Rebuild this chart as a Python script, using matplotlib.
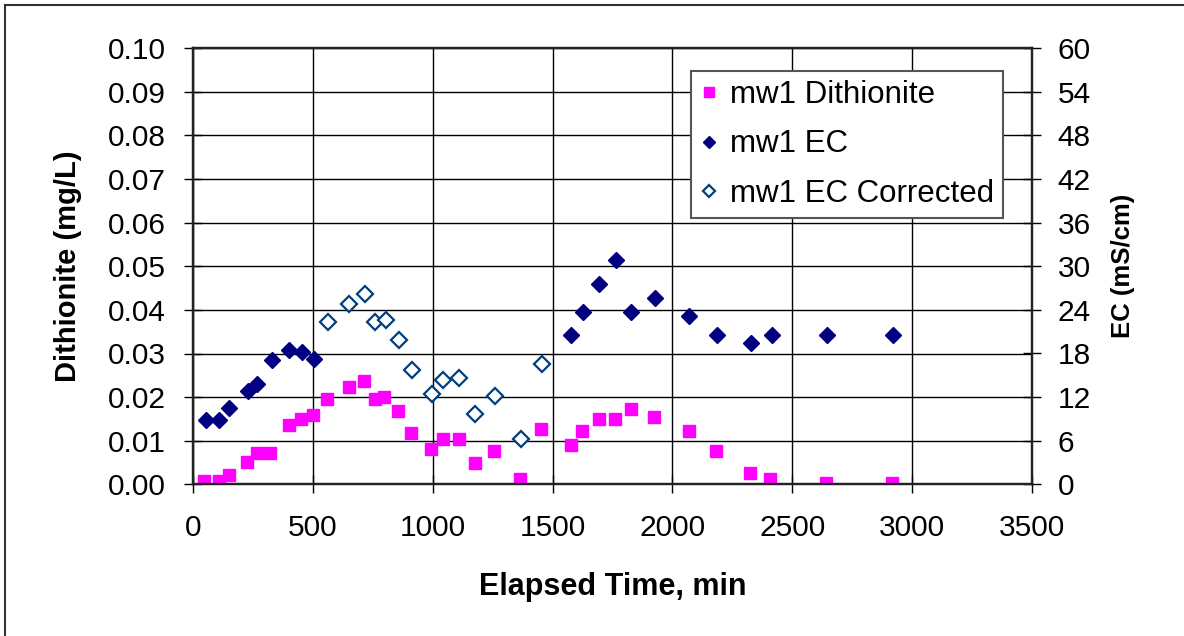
import matplotlib
matplotlib.use("Agg")
import matplotlib.pyplot as plt
from matplotlib.lines import Line2D

plt.rcParams['font.family'] = ['Liberation Sans', 'DejaVu Sans']

# mw1 Dithionite (mg/L) vs elapsed time (min)
dith_time = [46, 106, 148, 223, 264, 322, 398, 448, 498, 557, 649, 714, 758, 797,
             856, 907, 991, 1041, 1108, 1175, 1256, 1365, 1450, 1575, 1624, 1692,
             1759, 1826, 1924, 2068, 2183, 2325, 2408, 2642, 2918]
dith_val = [0.0008, 0.0008, 0.0021, 0.0050, 0.0072, 0.0072, 0.0136, 0.0150, 0.0160,
            0.0195, 0.0223, 0.0236, 0.0195, 0.0200, 0.0168, 0.0118, 0.0081, 0.0103,
            0.0103, 0.0049, 0.0076, 0.0012, 0.0127, 0.0090, 0.0122, 0.0150, 0.0150,
            0.0173, 0.0154, 0.0122, 0.0076, 0.0026, 0.0012, 0.0003, 0.0003]

# mw1 EC (mS/cm)
ec_time = [52, 109, 150, 227, 267, 327, 401, 454, 502, 1577, 1628, 1695, 1763,
           1828, 1928, 2070, 2187, 2329, 2414, 2646, 2922]
ec_val = [8.8, 8.8, 10.5, 12.9, 13.8, 17.1, 18.5, 18.2, 17.3, 20.6, 23.7, 27.6, 30.8,
          23.7, 25.6, 23.1, 20.6, 19.5, 20.6, 20.6, 20.6]

# mw1 EC Corrected (mS/cm)
ecc_time = [561, 651, 718, 760, 803, 859, 912, 995, 1044, 1110, 1177, 1261, 1369, 1454]
ecc_val = [22.3, 24.8, 26.2, 22.3, 22.6, 19.9, 15.7, 12.4, 14.4, 14.6, 9.7, 12.1, 6.3, 16.5]

fig = plt.figure(figsize=(11.84, 6.36), dpi=100)
ax = fig.add_axes([193.3 / 1184, 1 - 484.3 / 636, 838.4 / 1184, 436 / 636])
ax2 = ax.twinx()

fs = 21.5
h1, = ax.plot(dith_time, dith_val, linestyle='none', marker='s', markersize=8.6,
              color='#FF00FF', markeredgecolor='#FF00FF', label='mw1 Dithionite', zorder=3)
h2, = ax2.plot(ec_time, ec_val, linestyle='none', marker='D', markersize=8,
               color='#000080', markeredgecolor='#000080', label='mw1 EC', zorder=3)
h3, = ax2.plot(ecc_time, ecc_val, linestyle='none', marker='D', markersize=7.8,
               markerfacecolor='white', markeredgecolor='#003F7F', markeredgewidth=1.6,
               label='mw1 EC Corrected', zorder=3)

ax.set_xlim(0, 3500)
ax.set_ylim(0, 0.10)
ax2.set_ylim(0, 60)
ax.set_xticks(range(0, 3501, 500))
ax.set_yticks([i / 100 for i in range(11)])
ax.set_yticklabels([f"{i / 100:.2f}" for i in range(11)])
ax2.set_yticks(range(0, 61, 6))

ax.grid(True, color='black', linewidth=1.0)
ax.set_axisbelow(True)

for a in (ax, ax2):
    for s in a.spines.values():
        s.set_color('#222222')
        s.set_linewidth(1.6)
ax.tick_params(axis='both', direction='inout', length=13, width=1.0, labelsize=fs, pad=13)
ax.tick_params(axis='x', pad=15)
ax2.tick_params(axis='y', direction='inout', length=13, width=1.0, labelsize=fs, pad=12)

ax.set_xlabel('Elapsed Time, min', fontsize=22, fontweight='bold')
ax.xaxis.set_label_coords(0.5, -0.235)
ax.xaxis.label.set_va('center')
ax.set_ylabel('Dithionite (mg/L)', fontsize=21, fontweight='bold')
ax.yaxis.set_label_coords(-0.149, 0.5)
ax.yaxis.label.set_va('center')
ax2.set_ylabel('EC (mS/cm)', fontsize=18.5, fontweight='bold')
ax2.yaxis.set_label_coords(1.109, 0.502)
ax2.yaxis.label.set_va('center')

leg = ax2.legend(handles=[h1, h2, h3], loc='upper right', bbox_to_anchor=(0.966, 0.9486),
                 borderaxespad=0, fontsize=22.5, frameon=True, fancybox=False,
                 edgecolor='#555555', handlelength=0.6, handletextpad=0.35,
                 borderpad=0.3, labelspacing=0.62, markerscale=0.8)
leg.get_frame().set_linewidth(1.5)
leg.get_frame().set_alpha(1)

# outer chart border (only top and left edges show in the image)
fig.lines.append(Line2D([5 / 1184, 1], [1 - 5 / 636, 1 - 5 / 636], transform=fig.transFigure,
                        color='#333333', linewidth=1.5))
fig.lines.append(Line2D([5 / 1184, 5 / 1184], [0, 1 - 5 / 636], transform=fig.transFigure,
                        color='#333333', linewidth=1.5))

fig.savefig('out.png', dpi=100)
